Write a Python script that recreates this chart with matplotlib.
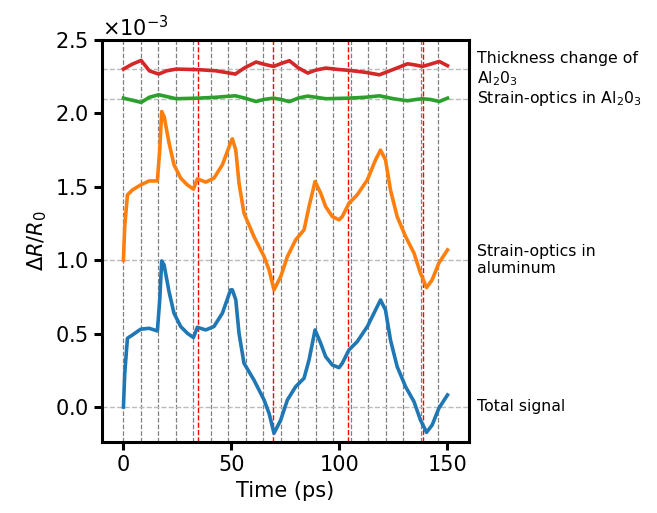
import numpy as np
import matplotlib
matplotlib.use("Agg")
import matplotlib.pyplot as plt
import matplotlib.transforms as mtransforms

# time samples (ps) for the total signal and the aluminum strain-optics trace
t_main = [0, 0.6, 1.85, 4.2, 8.0, 11.9, 15.7, 16.8, 17.7, 18.8,
          21.1, 23.4, 26.5, 29.6, 32.4, 34.2, 38.1, 41.9, 45.8, 49.6,
          50.4, 52.0, 53.5, 55.8, 60.4, 65.1, 67.4, 69.7, 72.8, 75.9,
          79.7, 83.6, 85.9, 88.7, 91.3, 93.6, 96.7, 99.8, 101.3, 104.4,
          108.2, 112.9, 116.7, 119.0, 121.3, 123.6, 126.7, 130.6, 134.5, 137.5,
          140.3, 142.9, 146.0, 150.0]

# dR/R0 in units of 1e-3 (already offset for display)
total = [0.0, 0.23, 0.468, 0.491, 0.53, 0.536, 0.518, 0.729, 0.995, 0.968,
         0.786, 0.639, 0.548, 0.502, 0.473, 0.543, 0.525, 0.548, 0.639, 0.798,
         0.798, 0.73, 0.502, 0.298, 0.184, 0.048, -0.043, -0.179, -0.089, 0.048,
         0.138, 0.196, 0.32, 0.525, 0.434, 0.343, 0.286, 0.268, 0.298, 0.389,
         0.445, 0.548, 0.661, 0.729, 0.661, 0.457, 0.275, 0.138, 0.036, -0.089,
         -0.173, -0.123, -0.009, 0.082]
al_strain = [1.0, 1.23, 1.445, 1.479, 1.513, 1.54, 1.54, 1.75, 2.013, 1.98,
             1.80, 1.65, 1.559, 1.513, 1.484, 1.554, 1.532, 1.559, 1.65, 1.80,
             1.827, 1.75, 1.525, 1.32, 1.161, 1.025, 0.934, 0.798, 0.888, 1.025,
             1.138, 1.207, 1.365, 1.536, 1.457, 1.365, 1.297, 1.275, 1.297, 1.388,
             1.445, 1.547, 1.684, 1.75, 1.684, 1.479, 1.297, 1.161, 1.048, 0.911,
             0.813, 0.866, 0.98, 1.07]

# thin film contributions
t_film = [0, 4, 8.2, 12, 16.3, 20, 24.4, 34.8, 42.9, 47,
          51.8, 56, 61.4, 65, 69.5, 73, 76.8, 81, 85.3, 89,
          93.7, 99, 104.5, 112, 118.5, 125, 131.5, 135, 138.4, 142,
          146.2, 150]
film_strain = [2.104, 2.09, 2.075, 2.11, 2.127, 2.115, 2.1, 2.104, 2.11, 2.115,
               2.12, 2.105, 2.081, 2.095, 2.104, 2.095, 2.08, 2.105, 2.118, 2.11,
               2.1, 2.102, 2.104, 2.11, 2.12, 2.1, 2.086, 2.094, 2.1, 2.095,
               2.081, 2.104]
thickness = [2.302, 2.335, 2.361, 2.29, 2.268, 2.29, 2.302, 2.298, 2.29, 2.28,
             2.268, 2.31, 2.35, 2.335, 2.32, 2.34, 2.359, 2.31, 2.275, 2.295,
             2.309, 2.30, 2.293, 2.28, 2.263, 2.30, 2.338, 2.33, 2.32, 2.335,
             2.354, 2.325]

offsets = [0.0, 1.0, 2.1, 2.3]
labels = ["Total signal", "Strain-optics in\naluminum",
          "Strain-optics in Al$_2$0$_3$", "Thickness change of\nAl$_2$0$_3$"]

t_al = 8.1     # round trip in aluminum
t_sub = 34.7   # echo period

scale = 1e-3

fig = plt.figure(figsize=(6.57, 5.13), dpi=100)
ax = fig.add_axes([0.155, 0.138, 0.559, 0.784])

for k in range(19):
    ax.axvline(k * t_al, color="gray", ls="--", lw=0.9, zorder=1)
for k in range(1, 5):
    ax.axvline(k * t_sub, color="red", ls="--", lw=1.0, zorder=1.5)
for off in offsets:
    ax.axhline(off * scale, color="#bbbbbb", ls="--", lw=1.0, zorder=1)

lw = 2.6
ax.plot(t_main, np.array(total) * scale, color="#1f77b4", lw=lw, zorder=3)
ax.plot(t_main, np.array(al_strain) * scale, color="#ff7f0e", lw=lw, zorder=3)
ax.plot(t_film, np.array(film_strain) * scale, color="#2ca02c", lw=lw, zorder=3)
ax.plot(t_film, np.array(thickness) * scale, color="#d62728", lw=lw, zorder=3)

trans = mtransforms.blended_transform_factory(ax.transAxes, ax.transData)
for off, lab in zip(offsets, labels):
    ax.text(1.022, off * scale, lab, transform=trans, fontsize=11.3,
            va="center", ha="left")

ax.set_xlim(-10, 160)
ax.set_ylim(-0.24e-3, 2.5e-3)
ax.set_xticks([0, 50, 100, 150])
ax.set_yticks(np.arange(0, 2.51, 0.5) * scale)
ax.ticklabel_format(axis="y", style="sci", scilimits=(0, 0), useMathText=True)
ax.tick_params(labelsize=15, width=2.2, length=6)
ax.yaxis.get_offset_text().set_fontsize(15)
for s in ax.spines.values():
    s.set_linewidth(2.2)

ax.set_xlabel("Time (ps)", fontsize=15)
ax.set_ylabel(r"$\Delta R/R_0$", fontsize=15)

fig.savefig("out.png", dpi=100)
